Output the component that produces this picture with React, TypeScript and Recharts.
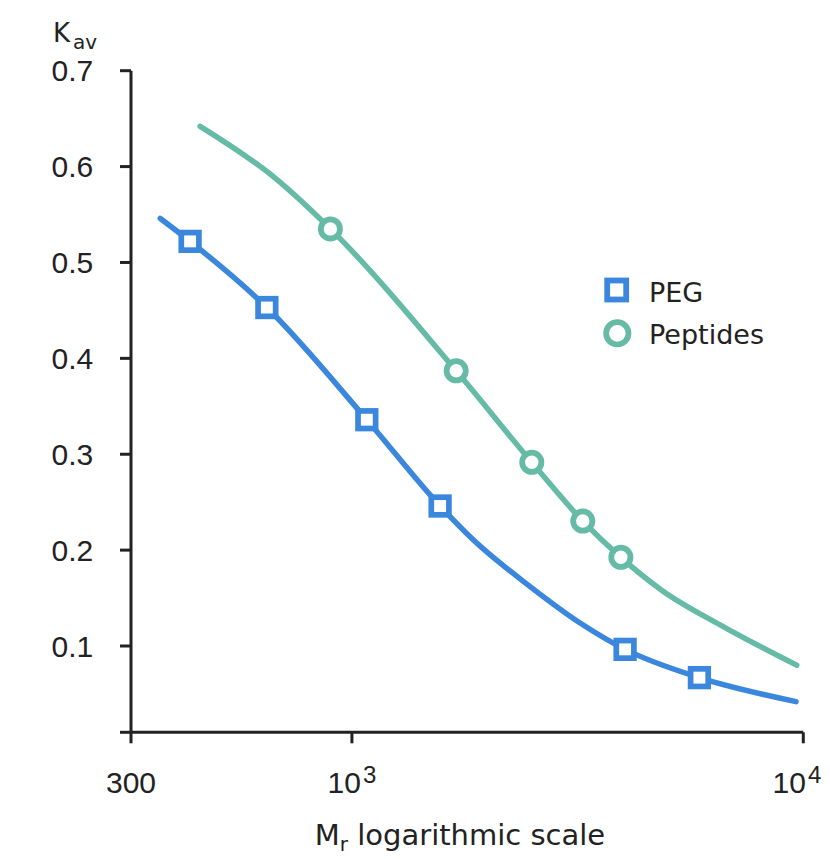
import React from 'react';
import { ComposedChart, Line, XAxis, YAxis } from 'recharts';

// Smooth fitted curves (Mr, Kav)
const pegCurveMr = [376, 438, 648, 1079, 1568, 1859, 2482, 3203, 4029, 5886, 9634];
const pegCurveKav = [0.546, 0.522, 0.453, 0.336, 0.246, 0.2105, 0.162, 0.124, 0.0965, 0.067, 0.042];
const pepCurveMr = [461, 676, 896, 1702, 2503, 3247, 3943, 4864, 6540, 9670];
const pepCurveKav = [0.642, 0.588, 0.535, 0.387, 0.2916, 0.2303, 0.1925, 0.158, 0.122, 0.08];

// Measured points
const pegPointsMr = [438, 648, 1079, 1568, 4029, 5886];
const pegPointsKav = [0.522, 0.453, 0.336, 0.246, 0.0965, 0.067];
const pepPointsMr = [896, 1702, 2503, 3247, 3943];
const pepPointsKav = [0.535, 0.387, 0.2916, 0.2303, 0.1925];

// Axis ticks
const xTicks = [324, 1000, 10000];
const xTickLabels = ['300', '10|3', '10|4'];
const yTicks = [0.01, 0.1, 0.2, 0.3, 0.4, 0.5, 0.6, 0.7];

const seriesNames = ['PEG', 'Peptides'];

const BLUE = '#3b87dd';
const TEAL = '#66bba7';
const INK = '#222222';
const NUM_FONT = '"Liberation Sans", Arial, sans-serif';
const TXT_FONT = '"DejaVu Sans", sans-serif';

const build = (xs: number[], ys: number[]) => xs.map((x, i) => ({ x, y: ys[i] }));

const pegCurve = build(pegCurveMr, pegCurveKav);
const pepCurve = build(pepCurveMr, pepCurveKav);
const pegPoints = build(pegPointsMr, pegPointsKav);
const pepPoints = build(pepPointsMr, pepPointsKav);

const SquareDot = (props: any) => {
  const { cx, cy, index } = props;
  if (cx == null || cy == null) return <g key={index} />;
  const s = 17.6;
  return (
    <rect key={index} x={cx - s / 2} y={cy - s / 2} width={s} height={s} fill="#fff" stroke={BLUE} strokeWidth={5.7} />
  );
};

const CircleDot = (props: any) => {
  const { cx, cy, index } = props;
  if (cx == null || cy == null) return <g key={index} />;
  return <circle key={index} cx={cx} cy={cy} r={9.6} fill="#fff" stroke={TEAL} strokeWidth={5.8} />;
};

const XTick = (props: any) => {
  const { x, y, payload } = props;
  const idx = xTicks.indexOf(payload.value);
  const label = xTickLabels[idx] ?? '';
  const parts = label.split('|');
  const isLast = idx === xTicks.length - 1;
  if (parts.length === 2) {
    return (
      <text
        x={isLast ? x + 18 : x}
        y={y + 50}
        textAnchor={isLast ? 'end' : 'middle'}
        fontFamily={NUM_FONT}
        fontSize={30}
        fill={INK}
      >
        {parts[0]}
        <tspan dx={2} dy={-10} fontSize={24}>{parts[1]}</tspan>
      </text>
    );
  }
  return (
    <text x={x} y={y + 50} textAnchor="middle" fontFamily={NUM_FONT} fontSize={30} fill={INK}>
      {label}
    </text>
  );
};

export default function App() {
  return (
    <div style={{ position: 'relative', width: 830, height: 859, margin: -8, background: '#fff' }}>
      <ComposedChart
        width={830}
        height={859}
        margin={{ top: 70.7, right: 26.7, bottom: 66.7, left: 0 }}
      >
        <XAxis
          dataKey="x"
          type="number"
          scale="log"
          domain={[324, 10000]}
          ticks={xTicks}
          allowDataOverflow
          height={60}
          tickSize={11}
          tickMargin={0}
          axisLine={{ stroke: INK, strokeWidth: 3 }}
          tickLine={{ stroke: INK, strokeWidth: 3 }}
          tick={<XTick />}
        />
        <YAxis
          dataKey="y"
          type="number"
          domain={[0.01, 0.7]}
          ticks={yTicks}
          allowDataOverflow
          width={131}
          tickSize={11}
          tickMargin={26.7}
          axisLine={{ stroke: INK, strokeWidth: 3 }}
          tickLine={{ stroke: INK, strokeWidth: 3 }}
          tick={{ fontSize: 30, fontFamily: NUM_FONT, fill: INK }}
          tickFormatter={(v: number) => (v < 0.05 ? '' : v.toFixed(1))}
        />
        <Line
          data={pegCurve}
          dataKey="y"
          type="monotone"
          stroke={BLUE}
          strokeWidth={5.5}
          strokeLinecap="round"
          dot={false}
          activeDot={false}
          isAnimationActive={false}
        />
        <Line
          data={pepCurve}
          dataKey="y"
          type="monotone"
          stroke={TEAL}
          strokeWidth={5.5}
          strokeLinecap="round"
          dot={false}
          activeDot={false}
          isAnimationActive={false}
        />
        <Line
          data={pegPoints}
          dataKey="y"
          name={seriesNames[0]}
          stroke="none"
          dot={<SquareDot />}
          activeDot={false}
          isAnimationActive={false}
        />
        <Line
          data={pepPoints}
          dataKey="y"
          name={seriesNames[1]}
          stroke="none"
          dot={<CircleDot />}
          activeDot={false}
          isAnimationActive={false}
        />
      </ComposedChart>
      <svg
        width={830}
        height={859}
        style={{ position: 'absolute', left: 0, top: 0, pointerEvents: 'none', overflow: 'visible' }}
      >
        <text x={53} y={42} fontFamily={TXT_FONT} fontSize={26} fill={INK}>
          K
          <tspan dx={3} dy={7} fontSize={20}>av</tspan>
        </text>
        <text x={460} y={845} textAnchor="middle" fontFamily={TXT_FONT} fontSize={29} fill={INK}>
          M
          <tspan dy={6} fontSize={20}>r</tspan>
          <tspan dy={-6}> logarithmic scale</tspan>
        </text>
        <rect x={616.7 - 9.5} y={290 - 9.5} width={19} height={19} fill="#fff" stroke={BLUE} strokeWidth={5.8} />
        <text x={649} y={301.7} fontFamily={TXT_FONT} fontSize={27} fill={INK}>{seriesNames[0]}</text>
        <circle cx={617.3} cy={333.3} r={11.2} fill="#fff" stroke={TEAL} strokeWidth={5.7} />
        <text x={649} y={343.5} fontFamily={TXT_FONT} fontSize={27} fill={INK}>{seriesNames[1]}</text>
      </svg>
    </div>
  );
}
